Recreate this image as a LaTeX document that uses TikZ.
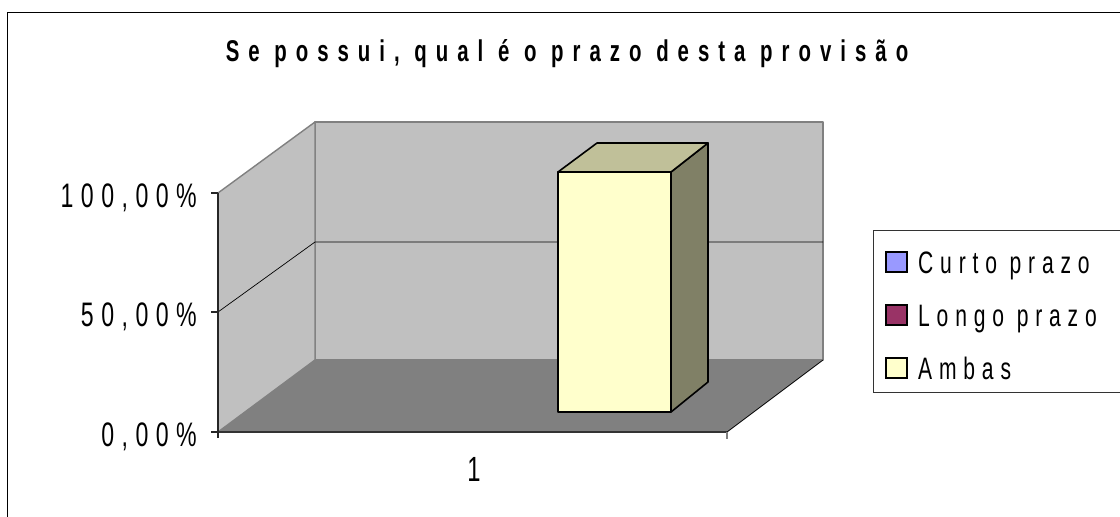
\documentclass[tikz,border=0pt]{standalone}
\usepackage{fontspec}
\setmainfont{Liberation Sans}
\newfontfamily\lblfont[FakeStretch=0.68,LetterSpace=22]{Liberation Sans}
\newfontfamily\ttlfont[FakeStretch=0.68,LetterSpace=30]{Liberation Sans}
\definecolor{wallc}{HTML}{C0C0C0}
\definecolor{floorc}{HTML}{808080}
\definecolor{edgec}{HTML}{808080}
\definecolor{barfront}{HTML}{FFFFCC}
\definecolor{bartop}{HTML}{C0C099}
\definecolor{barside}{HTML}{808066}
\definecolor{curto}{HTML}{9999FF}
\definecolor{longo}{HTML}{993366}
\tikzset{
  wall/.style={fill=wallc,draw=edgec,line width=1.4pt,line join=round},
  floorface/.style={fill=floorc},
  barface/.style={draw=black,line width=1.6pt,line join=round},
  grid/.style={draw=black,line width=0.7pt},
  axisline/.style={draw=black!85,line width=1.1pt},
  ylabel/.style={anchor=base east,inner sep=0pt,font=\lblfont\fontsize{34}{36}\selectfont},
  legtext/.style={anchor=base west,inner sep=0pt,font=\lblfont\fontsize{31}{33}\selectfont},
  legkey/.style={draw=black,line width=1.2pt,minimum width=21pt,minimum height=20pt,inner sep=0pt}
}
\begin{document}
\begin{tikzpicture}[x=1pt,y=-1pt]
\useasboundingbox (0,0) rectangle (1120,517);
\fill[white] (0,0) rectangle (1120,517);
\begin{scope}
\clip (0,0) rectangle (1120,517);
\draw[black,line width=1.4pt] (7.5,12.5) rectangle (1140,540);
% walls
\path[wall] (315,122) rectangle (823,360);
\path[wall] (218,432) -- (218,193) -- (315,122) -- (315,360) -- cycle;
% floor
\path[floorface] (218,432) -- (727,432) -- (823,360) -- (315,360) -- cycle;
\draw[black,line width=0.8pt] (727,432) -- (823,360);
\draw[black!80,line width=1.4pt] (218,432) -- (727,432);
\draw[edgec,line width=1.4pt] (727,432) -- (727,439);
% grid line 50%
\draw[grid] (218,312) -- (315,242) -- (823,242);
% axis
\draw[axisline] (218,193) -- (218,438);
\draw[axisline] (211,193) -- (218,193);
\draw[axisline] (211,312) -- (218,312);
\draw[axisline] (211,432) -- (218,432);
% bar
\path[barface,fill=barside] (671,172) -- (708,143) -- (708,382) -- (671,412) -- cycle;
\path[barface,fill=bartop] (558,172) -- (597,143) -- (708,143) -- (671,172) -- cycle;
\path[barface,fill=barfront] (558,172) rectangle (671,412);
% legend box
\draw[black!80,line width=1pt,fill=white] (873,230) rectangle (1140,392);
\end{scope}
% title
\node[anchor=base,inner sep=0pt,font=\ttlfont\bfseries\fontsize{30}{32}\selectfont] (title) at (567,61) {Se possui, qual é o prazo desta provisão};
% y labels
\node[ylabel] (y100) at (197,207) {100,00\%};
\node[ylabel] (y50) at (197,326) {50,00\%};
\node[ylabel] (y0) at (197,446) {0,00\%};
% x label
\node[anchor=base,inner sep=0pt,font=\lblfont\fontsize{35}{36}\selectfont] (x1) at (474,481) {1};
% legend
\node[legkey,fill=curto] (k1) at (896.5,262) {};
\node[legkey,fill=longo] (k2) at (896.5,315) {};
\node[legkey,fill=barfront] (k3) at (896.5,368) {};
\node[legtext] (t1) at (918,273) {Curto prazo};
\node[legtext] (t2) at (918,326) {Longo prazo};
\node[legtext] (t3) at (918,379) {Ambas};
\end{tikzpicture}
\end{document}
